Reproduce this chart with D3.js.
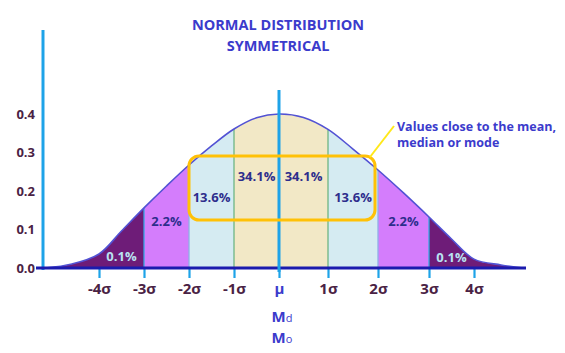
<!DOCTYPE html>
<html>
<head>
<meta charset="utf-8">
<script src="https://cdn.jsdelivr.net/npm/d3@7"></script>
<style>
  html, body { margin: 0; padding: 0; background: #ffffff; }
  svg { display: block; font-family: "Open Sans", "Noto Sans", sans-serif; }
</style>
</head>
<body>
<svg id="chart" width="565" height="353"></svg>
<script>
// ---- data ----
const curveSigma   = [-5.2, -4.6, -4, -3.5, -3, -2.5, -2, -1.5, -1, -0.5, 0, 0.5, 1, 1.5, 2, 2.5, 3, 3.5, 4, 4.6, 5.1];
const curveDensity = [0.0, 0.0104, 0.0364, 0.0961, 0.156, 0.213, 0.2675, 0.317, 0.361, 0.390, 0.400, 0.391, 0.360, 0.309, 0.2545, 0.195, 0.1325, 0.0753, 0.023, 0.008, 0.0];
const bandStart  = [-6, -3, -2, -1, 0, 1, 2, 3];
const bandEnd    = [-3, -2, -1, 0, 1, 2, 3, 6];
const bandLabels = ["0.1%", "2.2%", "13.6%", "34.1%", "34.1%", "13.6%", "2.2%", "0.1%"];
const bandLabelLevel = [0.018, 0.109, 0.171, 0.225, 0.225, 0.171, 0.109, 0.016];
const bandColors = ["#6e1c78", "#d47dfc", "#d5ebf2", "#f2e8c6", "#f2e8c6", "#d5ebf2", "#d47dfc", "#6e1c78"];
const xTicks = [-4, -3, -2, -1, 0, 1, 2, 3, 4];
const xTickLabels = ["-4σ", "-3σ", "-2σ", "-1σ", "μ", "1σ", "2σ", "3σ", "4σ"];
const yTicks = [0, 0.1, 0.2, 0.3, 0.4];
const boundaries = [-3, -2, -1, 1, 2, 3];
const boundaryColors = ["#35a6e2", "#8fb0e6", "#6db584", "#6db584", "#8fb0e6", "#35a6e2"];
const titleLines = ["NORMAL DISTRIBUTION", "SYMMETRICAL"];
const noteLines = ["Values close to the mean,", "median or mode"];

// ---- scales ----
const svg = d3.select("#chart");
const x = d3.scaleLinear()
  .domain([-4, -3, -2, -1, 0, 1, 2, 3, 4])
  .range([99, 144, 189, 234, 279, 328, 378, 429, 474]);
const y = d3.scaleLinear().domain([0, 0.4]).range([268, 114]);

const pts = curveSigma.map((s, i) => ({ s, d: curveDensity[i] }));
const densityAt = s => pts.find(p => p.s === s).d;

// ---- title ----
svg.selectAll("text.title").data(titleLines).join("text")
  .attr("class", "title")
  .attr("x", 278).attr("y", (d, i) => 30 + i * 21)
  .attr("text-anchor", "middle")
  .attr("font-size", 14.5).attr("font-weight", "bold")
  .attr("fill", "#3b3bcc")
  .text(d => d);

// ---- bands (area clipped to each band) ----
const curve = d3.curveCatmullRom.alpha(0.5);
const area = d3.area().x(p => x(p.s)).y0(y(0)).y1(p => y(p.d)).curve(curve);
const line = d3.line().x(p => x(p.s)).y(p => y(p.d)).curve(curve);
const defs = svg.append("defs");
bandStart.forEach((b, i) => {
  const x0 = Math.max(0, x(b)), x1 = Math.min(565, x(bandEnd[i]));
  defs.append("clipPath").attr("id", "band" + i)
    .append("rect").attr("x", x0).attr("y", 0).attr("width", x1 - x0).attr("height", y(0));
  svg.append("path").datum(pts)
    .attr("d", area)
    .attr("fill", bandColors[i])
    .attr("clip-path", `url(#band${i})`);
});

// boundary lines
svg.selectAll("line.bound").data(boundaries).join("line")
  .attr("class", "bound")
  .attr("x1", d => x(d)).attr("x2", d => x(d))
  .attr("y1", d => y(densityAt(d))).attr("y2", y(0))
  .attr("stroke", (d, i) => boundaryColors[i])
  .attr("stroke-width", 1.3);

// curve outline
svg.append("path").datum(pts)
  .attr("d", line).attr("fill", "none")
  .attr("stroke", "#5252d4").attr("stroke-width", 1.6);

// ---- y axis line ----
svg.append("line").attr("x1", 43).attr("x2", 43).attr("y1", 30).attr("y2", 270)
  .attr("stroke", "#1ea3e8").attr("stroke-width", 3);

// ---- x axis ticks ----
const xAxis = d3.axisBottom(x).tickValues(xTicks).tickSize(10)
  .tickFormat((d, i) => xTickLabels[i]);
const gx = svg.append("g").attr("transform", `translate(0,${y(0)})`).call(xAxis);
gx.select(".domain").remove();
gx.selectAll(".tick line").attr("stroke", "#1ea3e8").attr("stroke-width", 2.2);
gx.selectAll(".tick text")
  .attr("y", 26).attr("dy", null)
  .attr("font-size", 15).attr("font-weight", "bold")
  .attr("font-family", "'Open Sans', sans-serif")
  .attr("fill", (d) => d === 0 ? "#3b3bcc" : "#4a2244");

// ---- y axis labels ----
const yAxis = d3.axisLeft(y).tickValues(yTicks).tickSize(0).tickPadding(0).tickFormat(d3.format(".1f"));
const gy = svg.append("g").attr("transform", "translate(35,0)").call(yAxis);
gy.select(".domain").remove();
gy.selectAll(".tick text")
  .attr("font-size", 13).attr("font-weight", "bold")
  .attr("font-family", "'Open Sans', sans-serif")
  .attr("fill", "#4a2244");

// ---- baseline ----
svg.append("line").attr("x1", 36).attr("x2", 526).attr("y1", y(0)).attr("y2", y(0))
  .attr("stroke", "#1b1bae").attr("stroke-width", 3);

// ---- mean line ----
svg.append("line").attr("x1", x(0)).attr("x2", x(0)).attr("y1", 90).attr("y2", 272)
  .attr("stroke", "#1ea3e8").attr("stroke-width", 3);

// ---- band labels ----
svg.selectAll("text.band").data(bandLabels).join("text")
  .attr("class", "band")
  .attr("x", (d, i) => x((Math.max(bandStart[i], -4) + Math.min(bandEnd[i], 4)) / 2))
  .attr("y", (d, i) => y(bandLabelLevel[i]))
  .attr("text-anchor", "middle")
  .attr("font-size", 13).attr("font-weight", "bold")
  .attr("fill", (d, i) => (i === 0 || i === 7) ? "#b9e3f2" : "#2d2d8c")
  .text(d => d);

// ---- highlight box and note ----
svg.append("rect")
  .attr("x", x(-2)).attr("y", 156)
  .attr("width", x(2) - x(-2) - 3).attr("height", 64)
  .attr("rx", 10).attr("fill", "none")
  .attr("stroke", "#ffc107").attr("stroke-width", 3);
svg.append("line").attr("x1", 370).attr("y1", 157).attr("x2", 394).attr("y2", 126)
  .attr("stroke", "#ffe81a").attr("stroke-width", 2);
svg.selectAll("text.note").data(noteLines).join("text")
  .attr("class", "note")
  .attr("x", 397).attr("y", (d, i) => 131 + i * 16)
  .attr("font-size", 12.5).attr("font-weight", "bold")
  .attr("fill", "#3b3bcc")
  .text(d => d);

// ---- median / mode labels ----
const mm = [["M", "d"], ["M", "o"]];
mm.forEach((m, i) => {
  const t = svg.append("text")
    .attr("x", x(0) + 3).attr("y", 322 + i * 21)
    .attr("text-anchor", "middle")
    .attr("font-size", 15).attr("font-weight", "bold")
    .attr("fill", "#3b3bcc");
  t.append("tspan").text(m[0]);
  t.append("tspan").attr("font-size", 11).attr("font-weight", "normal").text(m[1]);
});
</script>
</body>
</html>
